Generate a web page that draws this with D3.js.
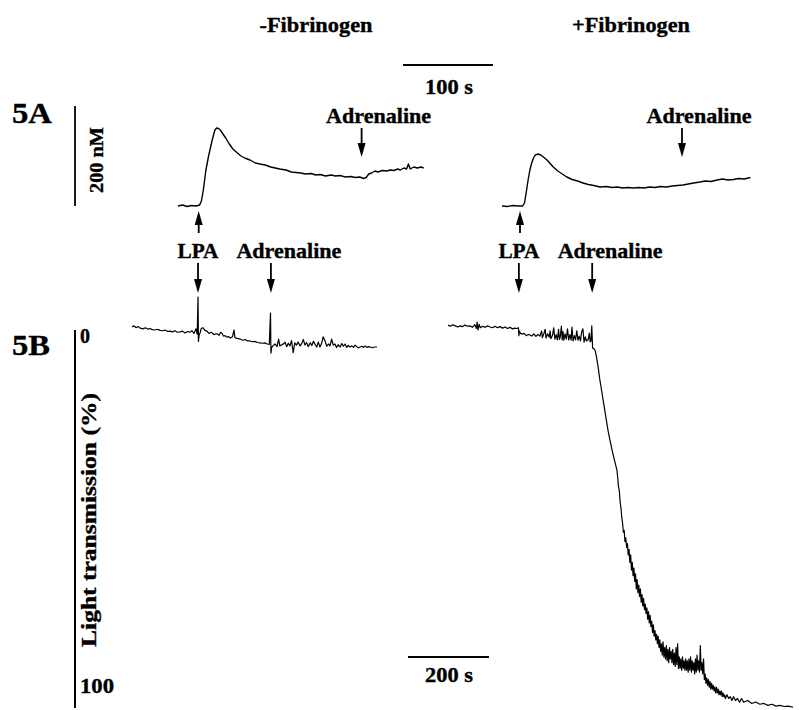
<!DOCTYPE html>
<html>
<head>
<meta charset="utf-8">
<script src="https://cdn.jsdelivr.net/npm/d3@7"></script>
<style>
body { margin: 0; background: #fff; }
svg text { font-family: "Liberation Serif", "Times New Roman", serif; font-weight: bold; fill: #000; stroke: #000; stroke-width: 0.35px; }
</style>
</head>
<body>
<div id="chart"></div>
<script>
// 5A: cytosolic Ca2+ (nM) vs time (s)
var caNoFib = [[0,100],[5,102],[10,99],[15,101],[20,100],[24,102],[26,110],[28,130],[31,172],[34,200],[38,232],[41,252],[43,256],[45,255],[47,252],[50,244],[53,236],[57,224],[61,214],[66,206],[70,200],[74,196],[80,192],[86,186],[91,184],[97,182],[103,178],[108,176],[113,174],[120,172],[126,168],[131,167],[136,166],[142,164],[148,165],[153,162],[158,163],[164,160],[170,162],[175,160],[180,161],[186,158],[192,159],[197,157],[202,158],[206,155],[209,157],[212,164],[215,166],[219,170],[222,168],[227,171],[232,170],[236,172],[240,171],[244,174],[247,172],[251,176],[254,174],[256,184],[258,174],[262,178],[266,176],[270,178],[273,176]];
var caFib = [[0,100],[6,99],[12,101],[18,100],[23,100],[25,106],[27,128],[29,152],[31,172],[33,186],[35,196],[37,202],[40,204],[43,202],[46,198],[50,192],[54,184],[57,178],[62,170],[67,164],[72,158],[78,153],[84,150],[90,146],[96,143],[102,141],[109,138],[116,139],[122,137],[128,138],[134,136],[140,137],[146,136],[152,137],[158,136],[164,138],[170,137],[176,139],[183,138],[189,140],[195,141],[201,142],[207,144],[213,146],[220,148],[226,150],[232,149],[239,152],[245,154],[251,152],[257,153],[263,155],[269,154],[276,157]];

// 5B: light transmission (%) vs time (s)
var transNoFib = [[0,-0.8],[5,-1.1],[10,-0.6],[15,-0.9],[20,-0.5],[27,-0.3],[33,-0.6],[40,-0.2],[44,-0.4],[50,-0.1],[57,0.0],[63,-0.2],[69,0.1],[76,0.2],[82,0.0],[88,0.4],[94,0.3],[100,0.5],[106,0.2],[112,0.6],[119,0.5],[125,0.3],[131,0.8],[137,0.4],[143,0.6],[148,0.2],[153,0.9],[158,-0.3],[161,1.1],[163,-8.7],[164,3.0],[166,1.2],[168,0.8],[171,-0.4],[175,-0.6],[180,0.1],[185,0.3],[190,0.9],[195,0.6],[198,0.8],[202,1.2],[205,1.1],[210,1.0],[215,1.4],[219,0.6],[222,0.9],[226,1.6],[230,1.5],[234,1.9],[238,1.7],[243,2.1],[248,1.8],[252,0.0],[254,2.0],[260,2.2],[267,2.4],[273,2.7],[279,2.5],[285,2.9],[291,2.9],[297,3.1],[303,3.0],[310,3.3],[316,3.4],[322,3.5],[328,3.4],[334,3.7],[339,3.8],[342,-4.5],[343,6.1],[345,4.6],[348,4.2],[353,3.7],[358,4.4],[362,2.4],[365,4.2],[370,3.9],[375,3.6],[378,3.2],[382,4.4],[386,3.5],[390,4.2],[394,2.8],[398,6.0],[402,3.4],[406,4.0],[410,3.2],[415,4.2],[419,3.6],[423,2.5],[427,4.0],[431,3.3],[435,4.4],[440,3.4],[444,4.1],[448,3.0],[452,3.8],[456,4.5],[460,3.2],[464,4.5],[468,3.6],[472,1.8],[477,3.0],[481,4.3],[485,3.7],[489,4.2],[493,2.4],[497,4.0],[501,3.7],[505,4.6],[509,3.9],[514,4.5],[518,3.6],[522,4.3],[526,3.7],[530,4.6],[534,4.1],[538,4.5],[543,4.2],[547,4.6],[551,4.0],[555,4.4],[559,4.7],[563,4.5],[568,4.3],[572,4.6],[576,4.2],[580,4.6],[584,4.4],[588,4.5],[593,4.7],[598,4.5],[605,4.5]];
var transFib = [[0,-1.3],[6,-1.0],[12,-1.4],[18,-1.1],[24,-0.8],[30,-1.1],[36,-0.9],[42,-1.3],[48,-1.0],[54,-1.1],[60,-0.7],[66,-1.4],[70,-0.4],[72,-2.1],[74,0.0],[77,-1.5],[80,-0.6],[86,-1.0],[92,-0.7],[98,-1.1],[104,-0.8],[110,-0.6],[116,-1.0],[122,-0.6],[128,-0.9],[135,-0.5],[141,-0.8],[147,-0.4],[153,-0.7],[159,-0.3],[165,-0.5],[170,-0.4],[174,-0.6],[175,1.5],[176,0.3],[179,0.9],[183,1.1],[188,0.9],[193,1.5],[198,1.2],[202,1.3],[207,1.6],[212,1.0],[217,1.7],[222,1.2],[227,1.6],[231,0.3],[233,2.0],[236,1.2],[240,-0.2],[242,2.1],[246,1.0],[250,1.9],[252,0.2],[254,2.3],[258,1.4],[261,-0.6],[264,2.4],[267,1.2],[270,2.6],[273,-0.2],[275,2.5],[277,1.9],[280,-1.0],[282,2.6],[284,0.4],[286,2.7],[289,1.0],[292,2.4],[295,-0.3],[298,2.6],[301,1.2],[304,2.7],[306,-0.8],[309,2.9],[312,1.5],[315,2.6],[318,0.2],[321,2.7],[324,1.6],[327,2.9],[330,0.5],[333,-0.3],[336,3.2],[339,1.8],[342,2.9],[346,2.6],[349,0.8],[351,3.1],[353,2.9],[355,-1.1],[357,4.8],[360,4.9],[363,5.3],[366,6.8],[370,9.3],[375,13.2],[379,15.8],[383,18.5],[389,22.5],[395,26.5],[400,29.2],[405,31.7],[411,34.4],[417,37.0],[419,39.0],[421,41.5],[423,42.5],[425,45.5],[427,47.0],[429,49.5],[431,51.0],[433,53.5],[435,53.0],[437,56.0],[439,55.0],[441,57.5],[443,56.5],[445,59.5],[447,58.0],[449,61.5],[451,59.5],[453,63.5],[455,61.5],[457,65.0],[459,63.0],[461,66.5],[463,64.5],[465,68.5],[467,66.0],[469,69.5],[471,67.5],[473,70.5],[475,68.5],[477,72.0],[479,70.0],[481,73.0],[483,71.0],[485,74.0],[487,72.5],[489,75.0],[491,73.5],[493,76.5],[495,74.5],[497,77.5],[499,75.5],[501,78.5],[503,77.0],[505,80.0],[507,78.0],[509,81.0],[511,79.5],[513,82.0],[515,80.5],[517,83.0],[519,81.0],[521,84.0],[523,82.0],[525,85.0],[527,83.0],[529,86.0],[531,82.5],[533,86.5],[535,84.0],[537,87.0],[539,83.5],[541,87.5],[543,84.5],[545,88.0],[547,84.0],[549,87.0],[551,85.0],[553,88.0],[555,84.5],[557,88.5],[559,85.5],[561,89.0],[563,84.0],[565,88.5],[567,83.0],[569,89.5],[571,86.5],[573,89.5],[575,87.0],[577,90.0],[579,86.5],[581,89.5],[583,87.5],[585,90.0],[587,87.0],[589,90.0],[591,87.5],[593,90.5],[595,87.0],[597,90.0],[599,86.5],[601,90.5],[603,87.5],[605,90.0],[607,88.0],[609,91.0],[611,87.0],[613,90.5],[615,86.0],[617,90.0],[619,87.5],[621,90.5],[623,83.5],[625,90.0],[627,88.0],[629,91.0],[631,87.0],[633,92.5],[635,91.0],[637,93.5],[639,92.0],[641,94.0],[643,92.5],[645,94.5],[647,93.0],[649,95.0],[651,93.5],[653,95.0],[655,94.0],[657,95.5],[659,94.5],[661,96.0],[663,94.5],[665,96.0],[667,95.0],[669,96.5],[671,95.5],[673,96.5],[675,95.5],[677,97.0],[679,96.0],[681,97.0],[683,96.5],[685,97.5],[689,96.5],[693,97.5],[697,97.0],[701,98.0],[705,97.0],[710,98.0],[715,97.5],[720,98.5],[725,97.5],[730,98.5],[740,98.0],[750,98.8],[760,98.4],[770,99.0],[780,98.8],[790,99.3],[800,99.0],[810,99.5],[820,99.3],[830,99.6],[840,99.5],[852,99.8]];

// additions (s from start of each trace)
var eventsTopNoFib = [{name:"LPA", t:23}, {name:"Adrenaline", t:204}];
var eventsTopFib = [{name:"LPA", t:20}, {name:"Adrenaline", t:200}];
var eventsBotNoFib = [{name:"LPA", t:163}, {name:"Adrenaline", t:343}];
var eventsBotFib = [{name:"LPA", t:175}, {name:"Adrenaline", t:356}];

var panelTitles = ["-Fibrinogen", "+Fibrinogen"];

var width = 799, height = 710;

var svg = d3.select("#chart").append("svg")
    .attr("width", width)
    .attr("height", height);

svg.append("rect").attr("width", width).attr("height", height).attr("fill", "#fff");

// scales: 100 s = 90 px on top, 200 s = 81 px on bottom
var xA1 = d3.scaleLinear().domain([0, 100]).range([178, 268]);
var xA2 = d3.scaleLinear().domain([0, 100]).range([502, 592]);
var yA = d3.scaleLinear().domain([100, 300]).range([206, 106]);
var xB1 = d3.scaleLinear().domain([0, 200]).range([132, 213]);
var xB2 = d3.scaleLinear().domain([0, 200]).range([448, 529]);
var yB = d3.scaleLinear().domain([0, 100]).range([330, 708]);

var drawTrace = function(data, x, y, sw) {
    var line = d3.line().x(function(d) { return x(d[0]); }).y(function(d) { return y(d[1]); });
    svg.append("path")
        .datum(data)
        .attr("d", line)
        .attr("fill", "none")
        .attr("stroke", "#000")
        .attr("stroke-width", sw)
        .attr("stroke-linejoin", "round");
};

drawTrace(caNoFib, xA1, yA, 1.4);
drawTrace(caFib, xA2, yA, 1.4);
drawTrace(transNoFib, xB1, yB, 1.2);
drawTrace(transFib, xB2, yB, 1.2);

// arrows
var arrow = function(x, yTail, yTip) {
    var dir = yTip > yTail ? 1 : -1;
    svg.append("line")
        .attr("x1", x).attr("x2", x)
        .attr("y1", yTail).attr("y2", yTip - dir * 10)
        .attr("stroke", "#000").attr("stroke-width", 1.8);
    svg.append("path")
        .attr("d", "M" + (x - 4) + "," + (yTip - dir * 14) + "L" + (x + 4) + "," + (yTip - dir * 14) + "L" + x + "," + yTip + "Z")
        .attr("fill", "#000");
};

var label = function(txt, x, y, size, len) {
    var t = svg.append("text")
        .attr("x", x).attr("y", y)
        .attr("text-anchor", "middle")
        .style("font-size", size + "px")
        .text(txt);
    if (len) t.attr("textLength", len).attr("lengthAdjust", "spacingAndGlyphs");
    return t;
};

var topEvents = function(events, x) {
    events.forEach(function(e) {
        if (e.name == "LPA") {
            arrow(x(e.t), 233, 211);
        } else {
            arrow(x(e.t), 128, 157);
            label(e.name, x(e.t) + 17, 123, 21, 105);
        }
    });
};
topEvents(eventsTopNoFib, xA1);
topEvents(eventsTopFib, xA2);

var botEvents = function(events, x) {
    events.forEach(function(e) {
        arrow(x(e.t), 263, 293);
        if (e.name == "LPA") label(e.name, x(e.t), 258, 21, 41);
        else label(e.name, x(e.t) + 18, 258, 21, 105);
    });
};
botEvents(eventsBotNoFib, xB1);
botEvents(eventsBotFib, xB2);

// titles
label(panelTitles[0], 316, 32, 21, 113);
label(panelTitles[1], 631, 32, 21, 118);

// time scale bars
svg.append("line").attr("x1", 403).attr("x2", 403 + xA1(100) - xA1(0))
    .attr("y1", 65).attr("y2", 65).attr("stroke", "#000").attr("stroke-width", 1.8);
label("100 s", 449, 94, 20, 48);
svg.append("line").attr("x1", 408).attr("x2", 408 + xB1(200) - xB1(0))
    .attr("y1", 657).attr("y2", 657).attr("stroke", "#000").attr("stroke-width", 2);
label("200 s", 449, 682, 20, 48);

// 5A concentration bar
svg.append("line").attr("x1", 75).attr("x2", 75)
    .attr("y1", yA(300)).attr("y2", yA(100)).attr("stroke", "#000").attr("stroke-width", 1.8);
label("200 nM", 0, 0, 19, 66).attr("transform", "translate(103,160) rotate(-90)");
svg.append("text").attr("x", 12).attr("y", 123).style("font-size", "29px")
    .attr("textLength", 40).attr("lengthAdjust", "spacingAndGlyphs").text("5A");

// 5B transmission axis
svg.append("line").attr("x1", 75).attr("x2", 75)
    .attr("y1", yB(0)).attr("y2", yB(100)).attr("stroke", "#000").attr("stroke-width", 2);
svg.append("text").attr("x", 80).attr("y", 343).style("font-size", "20px").text("0");
svg.append("text").attr("x", 80).attr("y", 693).style("font-size", "21px")
    .attr("textLength", 34).attr("lengthAdjust", "spacingAndGlyphs").text("100");
label("Light transmission (%)", 0, 0, 21, 254).attr("transform", "translate(96,520) rotate(-90)");
svg.append("text").attr("x", 12).attr("y", 355).style("font-size", "29px")
    .attr("textLength", 38).attr("lengthAdjust", "spacingAndGlyphs").text("5B");
</script>
</body>
</html>
